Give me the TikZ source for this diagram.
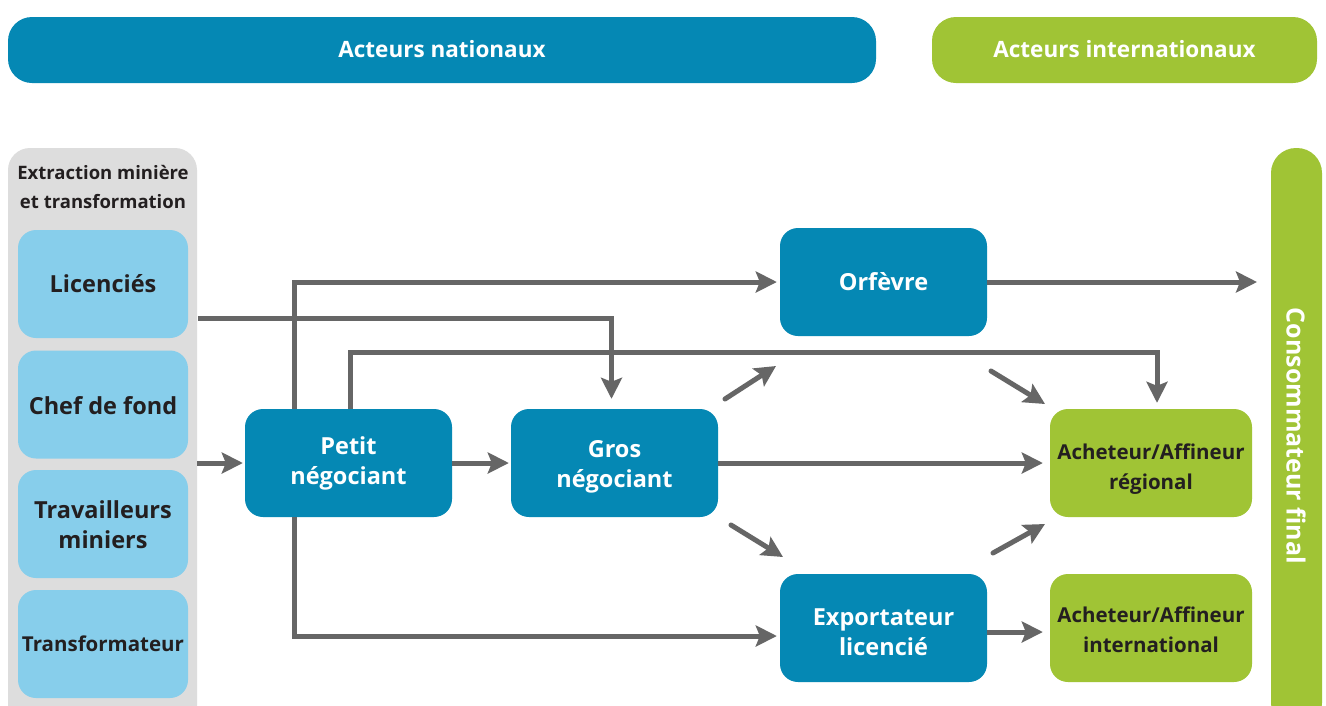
\documentclass[tikz,border=0pt]{standalone}
\usepackage{fontspec}
\setmainfont{Open Sans}
\usetikzlibrary{arrows.meta}
\definecolor{nblue}{HTML}{0588B4}
\definecolor{ngreen}{HTML}{A0C435}
\definecolor{lblue}{HTML}{87CEEB}
\definecolor{lgray}{HTML}{DDDDDD}
\definecolor{agray}{HTML}{666666}
\definecolor{dtext}{HTML}{231F20}
\newcommand{\lowerby}[1]{\rule{0pt}{#1}}
\begin{document}
\begin{tikzpicture}[x=1pt,y=-1pt,
  box/.style={rounded corners=18pt, minimum width=207pt, minimum height=108pt, align=center, inner sep=0pt, font=\bfseries\fontsize{23.5}{30}\selectfont},
  bluebox/.style={box, fill=nblue, text=white},
  greenbox/.style={box, fill=ngreen, text=dtext, minimum width=202pt, font=\bfseries\fontsize{20.5}{30}\selectfont},
  srcbox/.style={box, fill=lblue, text=dtext, minimum width=170pt, font=\bfseries\fontsize{23.5}{30}\selectfont},
  flow/.style={draw=agray, line width=5pt, -{Stealth[length=21pt,width=21pt,inset=4pt]}},
  diag/.style={flow, line cap=round},
  header/.style={rounded corners=24pt, minimum height=66pt, inner sep=0pt, text=white, font=\bfseries\fontsize{22.5}{26}\selectfont}
]
\useasboundingbox[fill=white] (0,0) rectangle (1326,705);

% headers
\node[header, fill=nblue, minimum width=868pt] (nat) at (442,50) {\raisebox{2pt}{Acteurs nationaux}};
\node[header, fill=ngreen, minimum width=385pt] (int) at (1124.5,50) {\raisebox{2pt}{Acteurs internationaux}};

% left column
\node[fill=lgray, rounded corners=22pt, minimum width=189pt, minimum height=580pt, inner sep=0pt] (col) at (102.5,438) {};
\node[align=center, text=dtext, font=\bfseries\fontsize{18.5}{29}\selectfont] (coltitle) at (103,187) {Extraction minière\\et transformation};
\node[srcbox] (lic) at (103,284) {Licenciés};
\node[srcbox] (chef) at (103,404.5) {\lowerby{19.5pt}Chef de fond};
\node[srcbox] (trav) at (103,524) {\lowerby{20pt}Travailleurs\\miniers};
\node[srcbox, font=\bfseries\fontsize{20.5}{30}\selectfont] (trans) at (103,644) {Transformateur};

% right column
\node[fill=ngreen, rounded corners=25pt, minimum width=51pt, minimum height=580pt, inner sep=0pt] (cons) at (1296.5,438) {};
\node[rotate=-90, text=white, font=\bfseries\fontsize{25}{30}\selectfont] (constext) at (1296,436) {Consommateur final};

% actors
\node[bluebox] (pn) at (348.5,463) {Petit\\négociant};
\node[bluebox] (gn) at (614.5,463) {\lowerby{25.5pt}Gros\\négociant};
\node[bluebox] (orf) at (883.5,282) {Orfèvre};
\node[bluebox] (exp) at (883.5,628) {\lowerby{25.5pt}Exportateur\\licencié};
\node[greenbox] (ar) at (1151,463) {\lowerby{27.5pt}Acheteur/Affineur\\régional};
\node[greenbox] (ai) at (1151,628) {\lowerby{19.5pt}Acheteur/Affineur\\international};

% connectors
\coordinate (licout) at (198,318);
\coordinate (r1) at (1157,352);
\coordinate (orfend) at (1257,282);

\draw[flow] (col.east |- pn.west) -- ([xshift=-2pt]pn.west);
\draw[flow] (pn.east) -- ([xshift=-2pt]gn.west);
\draw[flow] (gn.east) -- ([xshift=-7pt]ar.west);
\draw[flow] (licout) -| ([xshift=-3pt,yshift=10pt]gn.north);
\draw[flow] ([xshift=50pt]pn.north west) |- ([xshift=-3pt]orf.west);
\draw[flow] ([xshift=2pt]pn.north) |- (r1) -- ([yshift=6pt]r1 |- ar.north);
\draw[flow] ([xshift=50pt]pn.south west) |- ([xshift=-3pt,yshift=-8pt]exp.west);
\draw[flow] (orf.east) -- (orfend);
\draw[flow] ([yshift=-4pt]exp.east) -- ([xshift=-7pt,yshift=-4pt]ai.west);

\coordinate (d1a) at (725,399);
\coordinate (d1b) at (776,366);
\coordinate (d2a) at (991,371);
\coordinate (d2b) at (1045,404);
\coordinate (d3a) at (731,525);
\coordinate (d3b) at (783,557);
\coordinate (d4a) at (993,553);
\coordinate (d4b) at (1045,524);
\draw[diag] (d1a) -- (d1b);
\draw[diag] (d2a) -- (d2b);
\draw[diag] (d3a) -- (d3b);
\draw[diag] (d4a) -- (d4b);
\end{tikzpicture}
\end{document}
